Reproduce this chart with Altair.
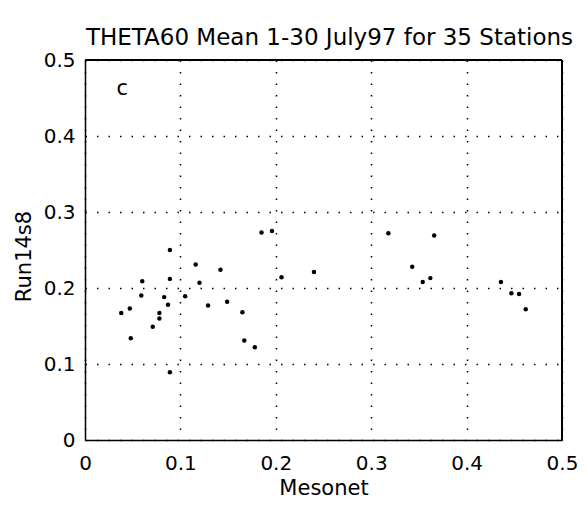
import altair as alt
import pandas as pd

mesonet = [0.038, 0.047, 0.048, 0.060, 0.059, 0.071, 0.078, 0.078, 0.083, 0.087,
           0.089, 0.089, 0.089, 0.105, 0.116, 0.120, 0.129, 0.142, 0.149, 0.165,
           0.167, 0.178, 0.185, 0.196, 0.206, 0.240, 0.318, 0.343, 0.354, 0.362,
           0.366, 0.436, 0.447, 0.455, 0.462]
run14s8 = [0.167, 0.173, 0.134, 0.209, 0.190, 0.149, 0.167, 0.160, 0.188, 0.178,
           0.250, 0.212, 0.089, 0.189, 0.231, 0.207, 0.177, 0.224, 0.182, 0.168,
           0.131, 0.122, 0.273, 0.275, 0.214, 0.221, 0.272, 0.228, 0.208, 0.213,
           0.269, 0.208, 0.193, 0.192, 0.172]
ticks = [0, 0.1, 0.2, 0.3, 0.4, 0.5]
panel_label = ["c"]
panel_x = [0.039]
panel_y = [0.462]
axis_max = 0.5

FONT = "DejaVu Sans"

df = pd.DataFrame({"Mesonet": mesonet, "Run14s8": run14s8})
lab = pd.DataFrame({"x": panel_x, "y": panel_y, "t": panel_label})

xs = alt.Scale(domain=[0, axis_max], nice=False, zero=False)
ys = alt.Scale(domain=[0, axis_max], nice=False, zero=False)

pts = alt.Chart(df).mark_point(filled=True, shape="circle", size=20, color="black", opacity=1).encode(
    x=alt.X("Mesonet:Q", scale=xs,
            axis=alt.Axis(values=ticks, format="~g", title="Mesonet", grid=True,
                          gridDash=[1.5, 10], gridColor="black", gridWidth=1.5, gridOpacity=1,
                          ticks=False, labelPadding=13, labelFontSize=20, labelFont=FONT,
                          labelColor="black", titleFontSize=21, titleFont=FONT, titleFontWeight="normal",
                          titleColor="black", titlePadding=4, domainColor="black", domainWidth=1.5,
                          labelFlush=False)),
    y=alt.Y("Run14s8:Q", scale=ys,
            axis=alt.Axis(values=ticks, format="~g", title="Run14s8", grid=True,
                          gridDash=[1.5, 10], gridColor="black", gridWidth=1.5, gridOpacity=1,
                          ticks=False, labelPadding=10, labelFontSize=20, labelFont=FONT,
                          labelColor="black", titleFontSize=21, titleFont=FONT, titleFontWeight="normal",
                          titleColor="black", titleX=-55, titleY=196, titleBaseline="alphabetic",
                          titleAlign="center", domainColor="black", domainWidth=1.5,
                          labelFlush=False)),
)

txt = alt.Chart(lab).mark_text(fontSize=21, font=FONT, color="black", baseline="middle", align="center").encode(
    x=alt.X("x:Q", scale=xs), y=alt.Y("y:Q", scale=ys), text="t:N")

top_rule = alt.Chart(df).mark_rule(color="black", strokeWidth=1.5).encode(y=alt.datum(axis_max, scale=ys))
right_rule = alt.Chart(df).mark_rule(color="black", strokeWidth=1.5).encode(x=alt.datum(axis_max, scale=xs))

chart = alt.layer(pts, txt, top_rule, right_rule).properties(
    width=477, height=380,
    title=alt.TitleParams("THETA60 Mean 1-30 July97 for 35 Stations", fontSize=23, font=FONT,
                          fontWeight="normal", color="black", offset=0, dx=6),
    autosize=alt.AutoSizeParams(type="none"),
    padding={"left": 77, "top": 52, "right": 17, "bottom": 58},
).configure_view(stroke="black", strokeWidth=1.5).configure(background="white")

chart.save("out.html", embed_options={"renderer": "svg", "actions": False})
